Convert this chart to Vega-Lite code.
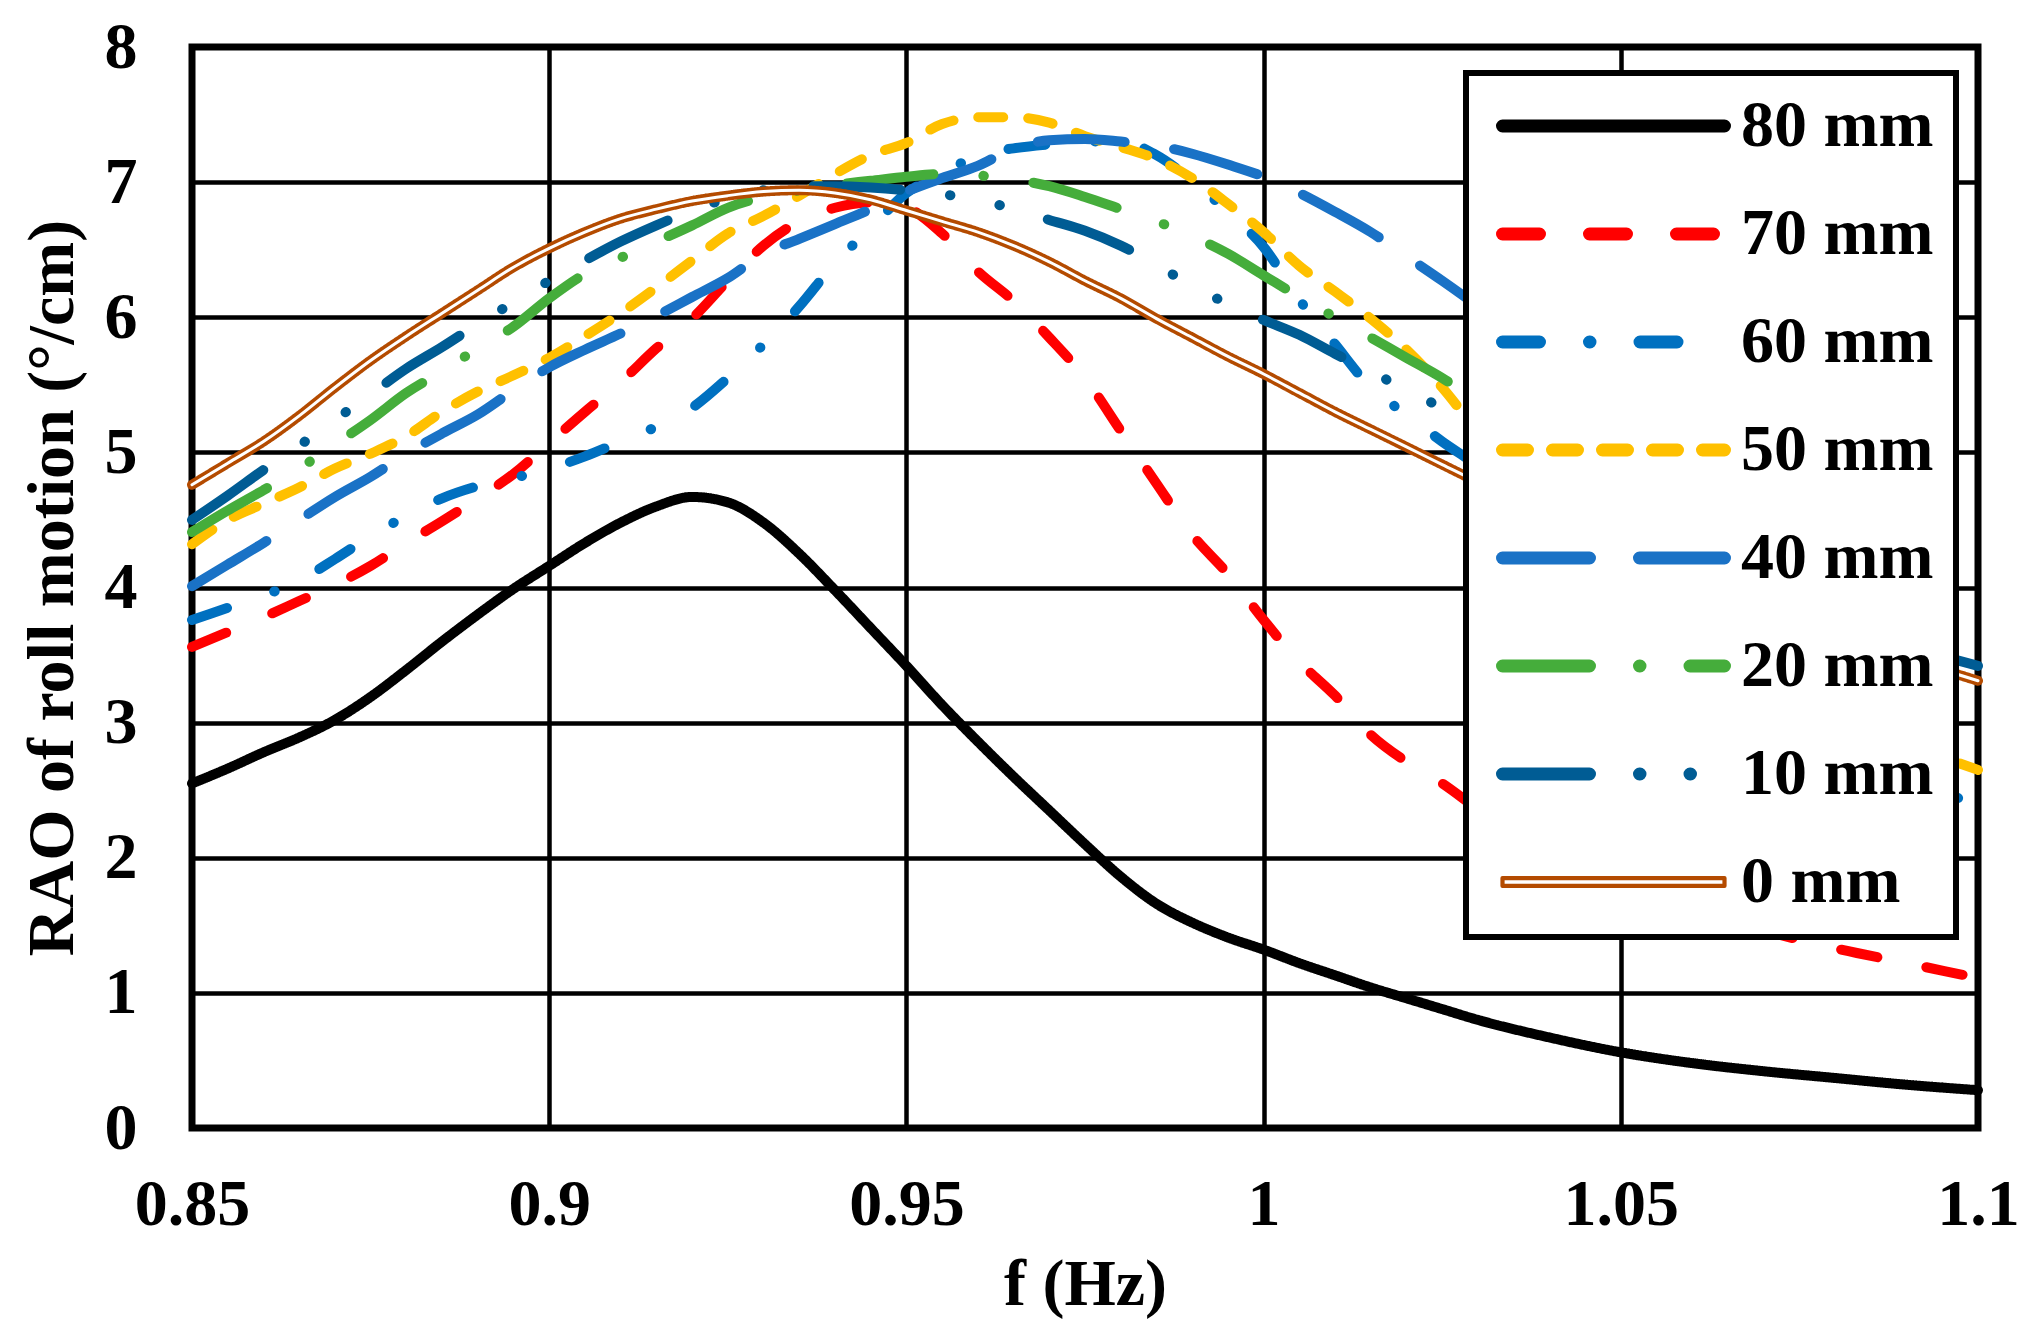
{
  "$schema": "https://vega.github.io/schema/vega-lite/v6.json",
  "width": 1786,
  "height": 1081,
  "autosize": {"type": "none"},
  "padding": {"left": 192, "top": 47, "right": 50, "bottom": 207},
  "background": "white",
  "data": {"values": [
    {"s":"80 mm","f":0.85,"v":2.55},{"s":"80 mm","f":0.855,"v":2.66},{"s":"80 mm","f":0.86,"v":2.78},{"s":"80 mm","f":0.865,"v":2.89},{"s":"80 mm","f":0.87,"v":3.02},
    {"s":"80 mm","f":0.875,"v":3.19},{"s":"80 mm","f":0.88,"v":3.39},{"s":"80 mm","f":0.885,"v":3.6},{"s":"80 mm","f":0.89,"v":3.8},{"s":"80 mm","f":0.895,"v":3.99},
    {"s":"80 mm","f":0.9,"v":4.16},{"s":"80 mm","f":0.905,"v":4.33},{"s":"80 mm","f":0.91,"v":4.48},{"s":"80 mm","f":0.915,"v":4.6},{"s":"80 mm","f":0.92,"v":4.67},
    {"s":"80 mm","f":0.925,"v":4.63},{"s":"80 mm","f":0.93,"v":4.48},{"s":"80 mm","f":0.935,"v":4.25},{"s":"80 mm","f":0.94,"v":3.98},{"s":"80 mm","f":0.945,"v":3.7},
    {"s":"80 mm","f":0.95,"v":3.42},{"s":"80 mm","f":0.955,"v":3.13},{"s":"80 mm","f":0.96,"v":2.86},{"s":"80 mm","f":0.965,"v":2.6},{"s":"80 mm","f":0.97,"v":2.35},
    {"s":"80 mm","f":0.975,"v":2.1},{"s":"80 mm","f":0.98,"v":1.86},{"s":"80 mm","f":0.985,"v":1.66},{"s":"80 mm","f":0.99,"v":1.52},{"s":"80 mm","f":0.995,"v":1.41},
    {"s":"80 mm","f":1,"v":1.32},{"s":"80 mm","f":1.005,"v":1.22},{"s":"80 mm","f":1.01,"v":1.13},{"s":"80 mm","f":1.015,"v":1.04},{"s":"80 mm","f":1.02,"v":0.96},
    {"s":"80 mm","f":1.025,"v":0.88},{"s":"80 mm","f":1.03,"v":0.8},{"s":"80 mm","f":1.04,"v":0.67},{"s":"80 mm","f":1.05,"v":0.56},{"s":"80 mm","f":1.06,"v":0.48},
    {"s":"80 mm","f":1.07,"v":0.42},{"s":"80 mm","f":1.08,"v":0.37},{"s":"80 mm","f":1.09,"v":0.32},{"s":"80 mm","f":1.1,"v":0.28},

    {"s":"70 mm","f":0.85,"v":3.56},{"s":"70 mm","f":0.855,"v":3.67},{"s":"70 mm","f":0.86,"v":3.78},{"s":"70 mm","f":0.865,"v":3.9},{"s":"70 mm","f":0.87,"v":4.02},
    {"s":"70 mm","f":0.875,"v":4.16},{"s":"70 mm","f":0.88,"v":4.33},{"s":"70 mm","f":0.885,"v":4.49},{"s":"70 mm","f":0.89,"v":4.66},{"s":"70 mm","f":0.895,"v":4.84},
    {"s":"70 mm","f":0.9,"v":5.07},{"s":"70 mm","f":0.905,"v":5.3},{"s":"70 mm","f":0.91,"v":5.52},{"s":"70 mm","f":0.915,"v":5.77},{"s":"70 mm","f":0.92,"v":5.99},
    {"s":"70 mm","f":0.925,"v":6.27},{"s":"70 mm","f":0.93,"v":6.53},{"s":"70 mm","f":0.935,"v":6.71},{"s":"70 mm","f":0.94,"v":6.81},{"s":"70 mm","f":0.945,"v":6.85},
    {"s":"70 mm","f":0.95,"v":6.81},{"s":"70 mm","f":0.955,"v":6.62},{"s":"70 mm","f":0.96,"v":6.34},{"s":"70 mm","f":0.965,"v":6.12},{"s":"70 mm","f":0.97,"v":5.85},
    {"s":"70 mm","f":0.975,"v":5.55},{"s":"70 mm","f":0.98,"v":5.16},{"s":"70 mm","f":0.985,"v":4.77},{"s":"70 mm","f":0.99,"v":4.39},{"s":"70 mm","f":0.995,"v":4.1},
    {"s":"70 mm","f":1,"v":3.76},{"s":"70 mm","f":1.005,"v":3.45},{"s":"70 mm","f":1.01,"v":3.2},{"s":"70 mm","f":1.015,"v":2.91},{"s":"70 mm","f":1.02,"v":2.71},
    {"s":"70 mm","f":1.025,"v":2.55},{"s":"70 mm","f":1.03,"v":2.36},{"s":"70 mm","f":1.04,"v":2.05},{"s":"70 mm","f":1.05,"v":1.8},{"s":"70 mm","f":1.06,"v":1.6},
    {"s":"70 mm","f":1.07,"v":1.46},{"s":"70 mm","f":1.08,"v":1.33},{"s":"70 mm","f":1.09,"v":1.22},{"s":"70 mm","f":1.1,"v":1.11},

    {"s":"60 mm","f":0.85,"v":3.76},{"s":"60 mm","f":0.855,"v":3.85},{"s":"60 mm","f":0.86,"v":3.94},{"s":"60 mm","f":0.865,"v":4.05},{"s":"60 mm","f":0.87,"v":4.21},
    {"s":"60 mm","f":0.875,"v":4.38},{"s":"60 mm","f":0.88,"v":4.53},{"s":"60 mm","f":0.885,"v":4.66},{"s":"60 mm","f":0.89,"v":4.75},{"s":"60 mm","f":0.895,"v":4.81},
    {"s":"60 mm","f":0.9,"v":4.88},{"s":"60 mm","f":0.905,"v":4.97},{"s":"60 mm","f":0.91,"v":5.08},{"s":"60 mm","f":0.915,"v":5.19},{"s":"60 mm","f":0.92,"v":5.33},
    {"s":"60 mm","f":0.925,"v":5.55},{"s":"60 mm","f":0.93,"v":5.8},{"s":"60 mm","f":0.935,"v":6.08},{"s":"60 mm","f":0.94,"v":6.4},{"s":"60 mm","f":0.945,"v":6.66},
    {"s":"60 mm","f":0.95,"v":6.92},{"s":"60 mm","f":0.955,"v":7.06},{"s":"60 mm","f":0.96,"v":7.2},{"s":"60 mm","f":0.965,"v":7.25},{"s":"60 mm","f":0.97,"v":7.28},
    {"s":"60 mm","f":0.975,"v":7.3},{"s":"60 mm","f":0.98,"v":7.3},{"s":"60 mm","f":0.985,"v":7.2},{"s":"60 mm","f":0.99,"v":7.01},{"s":"60 mm","f":0.995,"v":6.78},
    {"s":"60 mm","f":1,"v":6.52},{"s":"60 mm","f":1.005,"v":6.13},{"s":"60 mm","f":1.01,"v":5.8},{"s":"60 mm","f":1.015,"v":5.48},{"s":"60 mm","f":1.02,"v":5.28},
    {"s":"60 mm","f":1.025,"v":5.08},{"s":"60 mm","f":1.03,"v":4.9},{"s":"60 mm","f":1.04,"v":4.45},{"s":"60 mm","f":1.05,"v":4.05},{"s":"60 mm","f":1.06,"v":3.65},
    {"s":"60 mm","f":1.07,"v":3.3},{"s":"60 mm","f":1.08,"v":2.98},{"s":"60 mm","f":1.09,"v":2.66},{"s":"60 mm","f":1.1,"v":2.36},

    {"s":"50 mm","f":0.85,"v":4.32},{"s":"50 mm","f":0.855,"v":4.5},{"s":"50 mm","f":0.86,"v":4.62},{"s":"50 mm","f":0.865,"v":4.74},{"s":"50 mm","f":0.87,"v":4.88},
    {"s":"50 mm","f":0.875,"v":4.99},{"s":"50 mm","f":0.88,"v":5.12},{"s":"50 mm","f":0.885,"v":5.3},{"s":"50 mm","f":0.89,"v":5.45},{"s":"50 mm","f":0.895,"v":5.57},
    {"s":"50 mm","f":0.9,"v":5.7},{"s":"50 mm","f":0.905,"v":5.86},{"s":"50 mm","f":0.91,"v":6.03},{"s":"50 mm","f":0.915,"v":6.22},{"s":"50 mm","f":0.92,"v":6.42},
    {"s":"50 mm","f":0.925,"v":6.62},{"s":"50 mm","f":0.93,"v":6.75},{"s":"50 mm","f":0.935,"v":6.9},{"s":"50 mm","f":0.94,"v":7.06},{"s":"50 mm","f":0.945,"v":7.2},
    {"s":"50 mm","f":0.95,"v":7.29},{"s":"50 mm","f":0.955,"v":7.43},{"s":"50 mm","f":0.96,"v":7.48},{"s":"50 mm","f":0.965,"v":7.48},{"s":"50 mm","f":0.97,"v":7.44},
    {"s":"50 mm","f":0.975,"v":7.34},{"s":"50 mm","f":0.98,"v":7.26},{"s":"50 mm","f":0.985,"v":7.17},{"s":"50 mm","f":0.99,"v":7.03},{"s":"50 mm","f":0.995,"v":6.84},
    {"s":"50 mm","f":1,"v":6.63},{"s":"50 mm","f":1.005,"v":6.38},{"s":"50 mm","f":1.01,"v":6.19},{"s":"50 mm","f":1.015,"v":5.99},{"s":"50 mm","f":1.02,"v":5.76},
    {"s":"50 mm","f":1.025,"v":5.48},{"s":"50 mm","f":1.03,"v":5.15},{"s":"50 mm","f":1.04,"v":4.6},{"s":"50 mm","f":1.05,"v":4.15},{"s":"50 mm","f":1.06,"v":3.75},
    {"s":"50 mm","f":1.07,"v":3.4},{"s":"50 mm","f":1.08,"v":3.1},{"s":"50 mm","f":1.09,"v":2.85},{"s":"50 mm","f":1.1,"v":2.65},

    {"s":"40 mm","f":0.85,"v":4.01},{"s":"40 mm","f":0.855,"v":4.17},{"s":"40 mm","f":0.86,"v":4.33},{"s":"40 mm","f":0.865,"v":4.5},{"s":"40 mm","f":0.87,"v":4.67},
    {"s":"40 mm","f":0.875,"v":4.82},{"s":"40 mm","f":0.88,"v":4.99},{"s":"40 mm","f":0.885,"v":5.14},{"s":"40 mm","f":0.89,"v":5.28},{"s":"40 mm","f":0.895,"v":5.46},
    {"s":"40 mm","f":0.9,"v":5.63},{"s":"40 mm","f":0.905,"v":5.76},{"s":"40 mm","f":0.91,"v":5.88},{"s":"40 mm","f":0.915,"v":6.01},{"s":"40 mm","f":0.92,"v":6.15},
    {"s":"40 mm","f":0.925,"v":6.29},{"s":"40 mm","f":0.93,"v":6.47},{"s":"40 mm","f":0.935,"v":6.58},{"s":"40 mm","f":0.94,"v":6.69},{"s":"40 mm","f":0.945,"v":6.8},
    {"s":"40 mm","f":0.95,"v":6.93},{"s":"40 mm","f":0.955,"v":7.03},{"s":"40 mm","f":0.96,"v":7.12},{"s":"40 mm","f":0.965,"v":7.25},{"s":"40 mm","f":0.97,"v":7.31},
    {"s":"40 mm","f":0.975,"v":7.32},{"s":"40 mm","f":0.98,"v":7.3},{"s":"40 mm","f":0.985,"v":7.27},{"s":"40 mm","f":0.99,"v":7.21},{"s":"40 mm","f":0.995,"v":7.13},
    {"s":"40 mm","f":1,"v":7.04},{"s":"40 mm","f":1.005,"v":6.92},{"s":"40 mm","f":1.01,"v":6.78},{"s":"40 mm","f":1.015,"v":6.63},{"s":"40 mm","f":1.02,"v":6.45},
    {"s":"40 mm","f":1.025,"v":6.27},{"s":"40 mm","f":1.03,"v":6.08},{"s":"40 mm","f":1.04,"v":5.65},{"s":"40 mm","f":1.05,"v":5.2},{"s":"40 mm","f":1.06,"v":4.78},
    {"s":"40 mm","f":1.07,"v":4.38},{"s":"40 mm","f":1.08,"v":4.02},{"s":"40 mm","f":1.09,"v":3.72},{"s":"40 mm","f":1.1,"v":3.5},

    {"s":"20 mm","f":0.85,"v":4.41},{"s":"20 mm","f":0.855,"v":4.57},{"s":"20 mm","f":0.86,"v":4.72},{"s":"20 mm","f":0.865,"v":4.88},{"s":"20 mm","f":0.87,"v":5.06},
    {"s":"20 mm","f":0.875,"v":5.24},{"s":"20 mm","f":0.88,"v":5.44},{"s":"20 mm","f":0.885,"v":5.6},{"s":"20 mm","f":0.89,"v":5.77},{"s":"20 mm","f":0.895,"v":5.93},
    {"s":"20 mm","f":0.9,"v":6.14},{"s":"20 mm","f":0.905,"v":6.32},{"s":"20 mm","f":0.91,"v":6.44},{"s":"20 mm","f":0.915,"v":6.56},{"s":"20 mm","f":0.92,"v":6.68},
    {"s":"20 mm","f":0.925,"v":6.81},{"s":"20 mm","f":0.93,"v":6.89},{"s":"20 mm","f":0.935,"v":6.94},{"s":"20 mm","f":0.94,"v":6.98},{"s":"20 mm","f":0.945,"v":7.01},
    {"s":"20 mm","f":0.95,"v":7.04},{"s":"20 mm","f":0.955,"v":7.06},{"s":"20 mm","f":0.96,"v":7.05},{"s":"20 mm","f":0.965,"v":7.02},{"s":"20 mm","f":0.97,"v":6.97},
    {"s":"20 mm","f":0.975,"v":6.89},{"s":"20 mm","f":0.98,"v":6.8},{"s":"20 mm","f":0.985,"v":6.71},{"s":"20 mm","f":0.99,"v":6.6},{"s":"20 mm","f":0.995,"v":6.47},
    {"s":"20 mm","f":1,"v":6.31},{"s":"20 mm","f":1.005,"v":6.15},{"s":"20 mm","f":1.01,"v":6.0},{"s":"20 mm","f":1.015,"v":5.85},{"s":"20 mm","f":1.02,"v":5.7},
    {"s":"20 mm","f":1.025,"v":5.55},{"s":"20 mm","f":1.03,"v":5.38},{"s":"20 mm","f":1.04,"v":5.1},{"s":"20 mm","f":1.05,"v":4.8},{"s":"20 mm","f":1.06,"v":4.5},
    {"s":"20 mm","f":1.07,"v":4.22},{"s":"20 mm","f":1.08,"v":3.98},{"s":"20 mm","f":1.09,"v":3.77},{"s":"20 mm","f":1.1,"v":3.6},

    {"s":"10 mm","f":0.85,"v":4.5},{"s":"10 mm","f":0.855,"v":4.68},{"s":"10 mm","f":0.86,"v":4.87},{"s":"10 mm","f":0.865,"v":5.05},{"s":"10 mm","f":0.87,"v":5.24},
    {"s":"10 mm","f":0.875,"v":5.43},{"s":"10 mm","f":0.88,"v":5.62},{"s":"10 mm","f":0.885,"v":5.78},{"s":"10 mm","f":0.89,"v":5.95},{"s":"10 mm","f":0.895,"v":6.11},
    {"s":"10 mm","f":0.9,"v":6.27},{"s":"10 mm","f":0.905,"v":6.42},{"s":"10 mm","f":0.91,"v":6.56},{"s":"10 mm","f":0.915,"v":6.68},{"s":"10 mm","f":0.92,"v":6.79},
    {"s":"10 mm","f":0.925,"v":6.88},{"s":"10 mm","f":0.93,"v":6.94},{"s":"10 mm","f":0.935,"v":6.97},{"s":"10 mm","f":0.94,"v":6.97},{"s":"10 mm","f":0.945,"v":6.96},
    {"s":"10 mm","f":0.95,"v":6.94},{"s":"10 mm","f":0.955,"v":6.91},{"s":"10 mm","f":0.96,"v":6.87},{"s":"10 mm","f":0.965,"v":6.8},{"s":"10 mm","f":0.97,"v":6.72},
    {"s":"10 mm","f":0.975,"v":6.64},{"s":"10 mm","f":0.98,"v":6.53},{"s":"10 mm","f":0.985,"v":6.39},{"s":"10 mm","f":0.99,"v":6.23},{"s":"10 mm","f":0.995,"v":6.1},
    {"s":"10 mm","f":1,"v":5.98},{"s":"10 mm","f":1.005,"v":5.87},{"s":"10 mm","f":1.01,"v":5.73},{"s":"10 mm","f":1.015,"v":5.6},{"s":"10 mm","f":1.02,"v":5.46},
    {"s":"10 mm","f":1.025,"v":5.33},{"s":"10 mm","f":1.03,"v":5.2},{"s":"10 mm","f":1.04,"v":4.9},{"s":"10 mm","f":1.05,"v":4.6},{"s":"10 mm","f":1.06,"v":4.3},
    {"s":"10 mm","f":1.07,"v":4.02},{"s":"10 mm","f":1.08,"v":3.77},{"s":"10 mm","f":1.09,"v":3.57},{"s":"10 mm","f":1.1,"v":3.42},

    {"s":"0 mm","f":0.85,"v":4.76},{"s":"0 mm","f":0.855,"v":4.92},{"s":"0 mm","f":0.86,"v":5.08},{"s":"0 mm","f":0.865,"v":5.27},{"s":"0 mm","f":0.87,"v":5.48},
    {"s":"0 mm","f":0.875,"v":5.68},{"s":"0 mm","f":0.88,"v":5.86},{"s":"0 mm","f":0.885,"v":6.03},{"s":"0 mm","f":0.89,"v":6.2},{"s":"0 mm","f":0.895,"v":6.37},
    {"s":"0 mm","f":0.9,"v":6.51},{"s":"0 mm","f":0.905,"v":6.63},{"s":"0 mm","f":0.91,"v":6.73},{"s":"0 mm","f":0.915,"v":6.8},{"s":"0 mm","f":0.92,"v":6.86},
    {"s":"0 mm","f":0.925,"v":6.9},{"s":"0 mm","f":0.93,"v":6.93},{"s":"0 mm","f":0.935,"v":6.94},{"s":"0 mm","f":0.94,"v":6.92},{"s":"0 mm","f":0.945,"v":6.87},
    {"s":"0 mm","f":0.95,"v":6.79},{"s":"0 mm","f":0.955,"v":6.71},{"s":"0 mm","f":0.96,"v":6.63},{"s":"0 mm","f":0.965,"v":6.53},{"s":"0 mm","f":0.97,"v":6.41},
    {"s":"0 mm","f":0.975,"v":6.27},{"s":"0 mm","f":0.98,"v":6.14},{"s":"0 mm","f":0.985,"v":5.99},{"s":"0 mm","f":0.99,"v":5.85},{"s":"0 mm","f":0.995,"v":5.71},
    {"s":"0 mm","f":1,"v":5.58},{"s":"0 mm","f":1.005,"v":5.44},{"s":"0 mm","f":1.01,"v":5.3},{"s":"0 mm","f":1.015,"v":5.17},{"s":"0 mm","f":1.02,"v":5.04},
    {"s":"0 mm","f":1.025,"v":4.91},{"s":"0 mm","f":1.03,"v":4.78},{"s":"0 mm","f":1.04,"v":4.55},{"s":"0 mm","f":1.05,"v":4.32},{"s":"0 mm","f":1.06,"v":4.1},
    {"s":"0 mm","f":1.07,"v":3.88},{"s":"0 mm","f":1.08,"v":3.68},{"s":"0 mm","f":1.09,"v":3.48},{"s":"0 mm","f":1.1,"v":3.31}
  ]},
  "layer": [
    {
      "mark": {"type": "line", "strokeWidth": 10, "strokeCap": "round", "strokeJoin": "round", "interpolate": "monotone"},
      "encoding": {
        "x": {
          "field": "f", "type": "quantitative", "title": "f (Hz)",
          "scale": {"domain": [0.85, 1.1], "nice": false, "zero": false},
          "axis": {"values": [0.85, 0.9, 0.95, 1, 1.05, 1.1], "format": "~g", "labelPadding": 44, "titlePadding": 15, "labelFlush": false}
        },
        "y": {
          "field": "v", "type": "quantitative", "title": "RAO of roll motion (°/cm)",
          "scale": {"domain": [0, 8], "nice": false},
          "axis": {"values": [0, 1, 2, 3, 4, 5, 6, 7, 8], "format": "d", "labelPadding": 55, "titlePadding": 18}
        },
        "color": {
          "field": "s", "type": "nominal",
          "scale": {
            "domain": ["80 mm", "70 mm", "60 mm", "50 mm", "40 mm", "20 mm", "10 mm", "0 mm"],
            "range": ["#000000", "#FF0000", "#0070C0", "#FFC000", "#1A72C6", "#45AD3B", "#005C94", "#B44B00"]
          },
          "legend": {
            "title": null, "orient": "none", "legendX": 1274, "legendY": 26,
            "encode": {"symbols": {"update": {
              "strokeCap": {"value": "round"},
              "strokeJoin": {"value": "round"},
              "shape": {"signal": "datum.value === '0 mm' ? 'M-1,-0.035L1,-0.035L1,0.035L-1,0.035Z' : 'stroke'"},
              "fill": {"signal": "datum.value === '0 mm' ? 'white' : 'transparent'"},
              "strokeWidth": {"signal": "(datum.value === '0 mm' ? 4.2 : 13)"}
            }}}
          }
        },
        "strokeDash": {
          "field": "s", "type": "nominal",
          "scale": {
            "domain": ["80 mm", "70 mm", "60 mm", "50 mm", "40 mm", "20 mm", "10 mm", "0 mm"],
            "range": [[1, 0], [37, 50], [37, 50, 0.5, 50], [25, 25], [87, 50], [87, 50, 0.5, 50], [87, 50, 0.5, 50, 0.5, 50], [1, 0]]
          },
          "legend": {
            "title": null, "orient": "none", "legendX": 1274, "legendY": 26,
            "encode": {"symbols": {"update": {
              "strokeCap": {"value": "round"},
              "strokeJoin": {"value": "round"},
              "shape": {"signal": "datum.value === '0 mm' ? 'M-1,-0.035L1,-0.035L1,0.035L-1,0.035Z' : 'stroke'"},
              "fill": {"signal": "datum.value === '0 mm' ? 'white' : 'transparent'"},
              "strokeWidth": {"signal": "(datum.value === '0 mm' ? 4.2 : 13)"}
            }}}
          }
        }
      }
    },
    {
      "transform": [{"filter": "datum.s === '0 mm'"}],
      "mark": {"type": "line", "stroke": "white", "strokeWidth": 3, "strokeCap": "round", "interpolate": "monotone"},
      "encoding": {
        "x": {"field": "f", "type": "quantitative"},
        "y": {"field": "v", "type": "quantitative"}
      }
    }
  ],
  "config": {
    "view": {"stroke": "black", "strokeWidth": 7},
    "axis": {
      "domain": false, "ticks": false, "tickSize": 0,
      "grid": true, "gridColor": "black", "gridWidth": 4.5, "gridOpacity": 1,
      "labelFont": "Liberation Serif", "labelFontWeight": "bold", "labelFontSize": 66, "labelColor": "black", "labelOverlap": false,
      "titleFont": "Liberation Serif", "titleFontWeight": "bold", "titleFontSize": 66, "titleColor": "black"
    },
    "legend": {
      "fillColor": "white", "strokeColor": "black", "strokeWidth": 6, "padding": 22,
      "symbolType": "stroke", "symbolSize": 49284, "symbolStrokeWidth": 13, "symbolOffset": 8,
      "labelFont": "Liberation Serif", "labelFontWeight": "bold", "labelFontSize": 66, "labelColor": "black",
      "labelOffset": 10, "labelLimit": 400, "clipHeight": 62, "rowPadding": 42
    }
  }
}
